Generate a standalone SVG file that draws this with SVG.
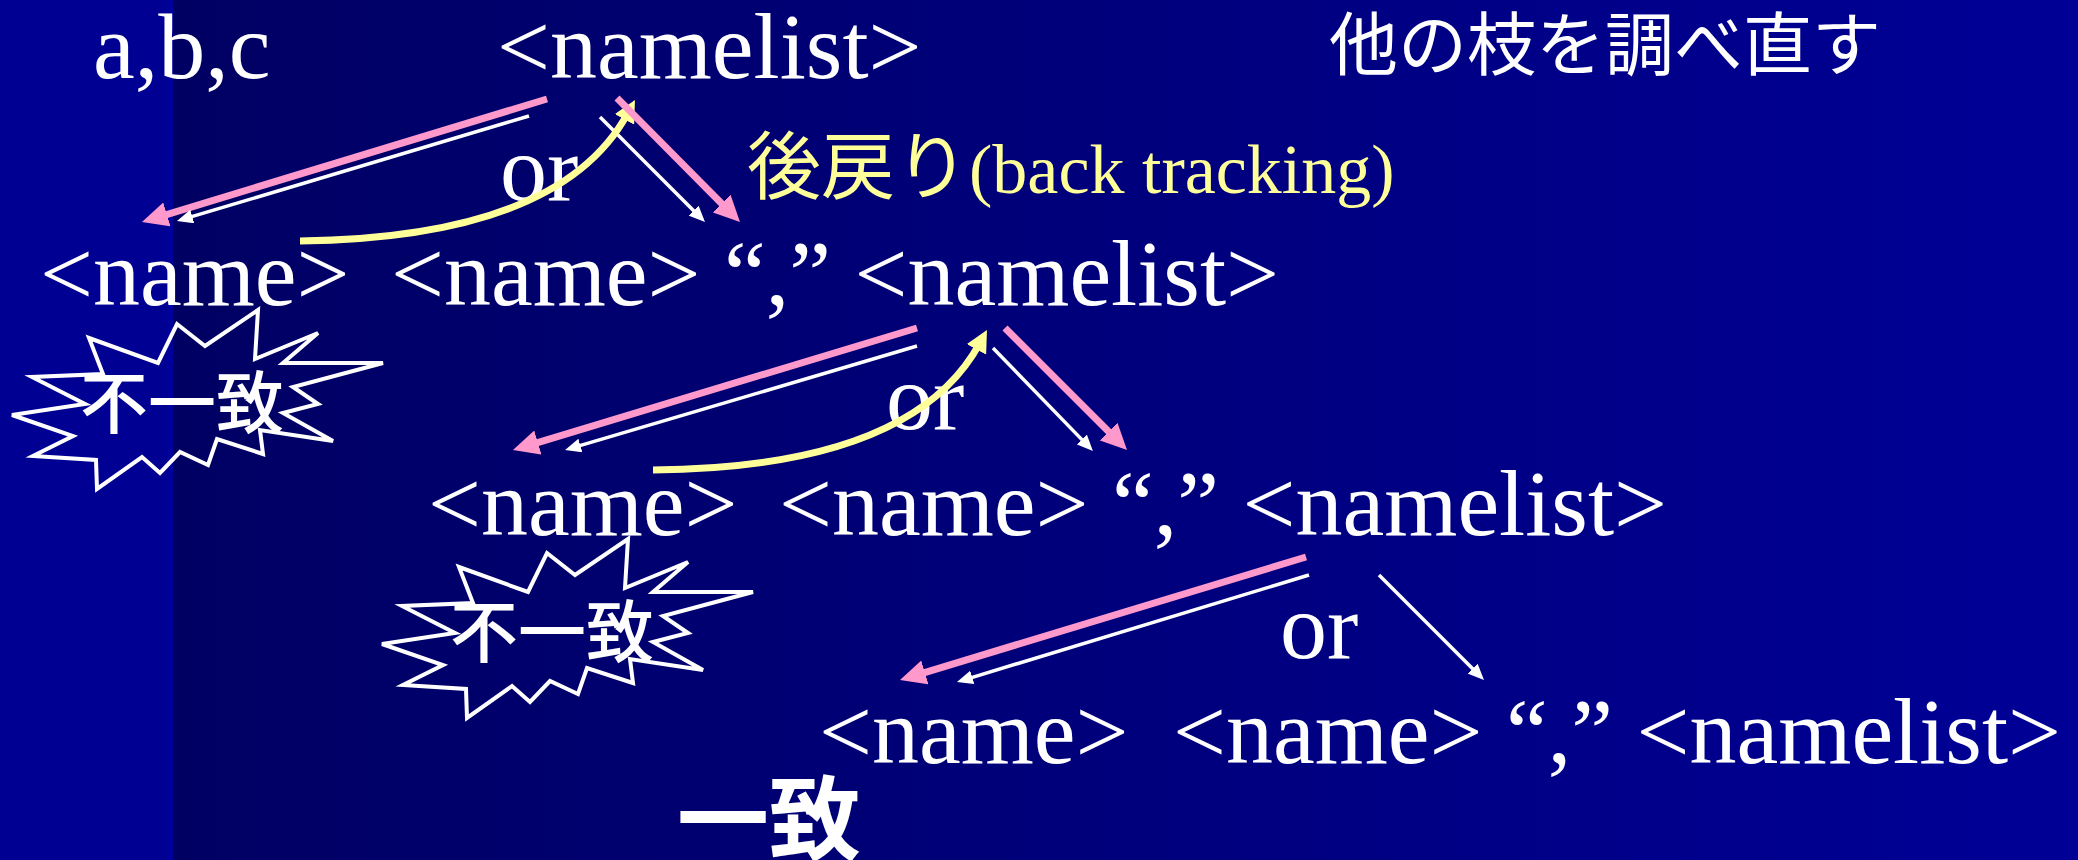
<svg xmlns="http://www.w3.org/2000/svg" width="2078" height="860" viewBox="0 0 2078 860">
  <defs>
    <linearGradient id="bgGrad" x1="170" y1="0" x2="2078" y2="0" gradientUnits="userSpaceOnUse">
      <stop offset="0" stop-color="#000063"/>
      <stop offset="1" stop-color="#000096"/>
    </linearGradient>
    <marker id="headPink" markerUnits="userSpaceOnUse" viewBox="0 0 26 25" markerWidth="26" markerHeight="25" refX="8" refY="12.5" orient="auto">
      <path d="M0,0 L26,12.5 L0,25 z" fill="#ff99cc"/>
    </marker>
    <marker id="headWhite" markerUnits="userSpaceOnUse" viewBox="0 0 16 14" markerWidth="16" markerHeight="14" refX="5" refY="7" orient="auto">
      <path d="M0,0 L16,7 L0,14 z" fill="#ffffff"/>
    </marker>
    <marker id="headYellow" markerUnits="userSpaceOnUse" viewBox="0 0 22 22" markerWidth="22" markerHeight="22" refX="7" refY="11" orient="auto">
      <path d="M0,0 L22,11 L0,22 z" fill="#ffff99"/>
    </marker>
    <!-- jagged "explosion" outline, reused for both mismatch marks -->
    <polygon id="burst" points="89,338 158,363 177,324 205,346 258,310 255,359 318,333 283,363 383,363 293,387 318,404 283,413 333,441 260,430 263,454 217,439 208,465 180,452 160,473 142,457 97,489 96,460 33,456 73,436 12,415 85,404 32,377 103,374"/>
  </defs>
  <style>
    .serif { font-family: "Liberation Serif", "Times New Roman", serif; font-size: 94px; fill: #ffffff; }
    .jp { font-family: "Noto Sans CJK JP", "Noto Sans CJK SC", sans-serif; fill: #ffffff; }
    .hl { fill: #ffff99; }
    .pink { fill: none; stroke: #ff99cc; stroke-width: 7; marker-end: url(#headPink); }
    .white { fill: none; stroke: #ffffff; stroke-width: 3.5; marker-end: url(#headWhite); }
    .yellow { fill: none; stroke: #ffff99; stroke-width: 7; marker-end: url(#headYellow); }
    .burst { fill: none; stroke: #ffffff; stroke-width: 4; stroke-linejoin: miter; }
  </style>

  <!-- background: dark navy slide with lighter left band -->
  <rect x="0" y="0" width="2078" height="860" fill="url(#bgGrad)"/>
  <rect x="0" y="0" width="167" height="860" fill="#000092"/>
  <rect x="167" y="0" width="6" height="860" fill="#00009c"/>

  <!-- input string -->
  <g id="input">
    <text class="serif" x="93" y="78">a,b,c</text>
  </g>

  <!-- root -->
  <g id="root">
    <text class="serif" x="497" y="78">&lt;namelist&gt;</text>
  </g>

  <g id="note-retry">
    <text class="jp" x="1329" y="70" font-size="69">他の枝を調べ直す</text>
  </g>

  <g id="note-backtrack">
    <text y="193"><tspan class="jp hl" x="747" font-size="74">後戻り</tspan><tspan class="hl" font-family="Liberation Serif, Times New Roman, serif" font-size="70">(back tracking)</tspan></text>
  </g>

  <!-- level 1 -->
  <g id="or-1"><text class="serif" x="500" y="200">or</text></g>
  <g id="level-1">
    <text class="serif" x="40" y="305">&lt;name&gt;</text>
    <text class="serif" x="391" y="305">&lt;name&gt; “,” &lt;namelist&gt;</text>
  </g>

  <!-- level 2 -->
  <g id="or-2"><text class="serif" x="886" y="429">or</text></g>
  <g id="level-2">
    <text class="serif" x="428" y="535">&lt;name&gt;</text>
    <text class="serif" x="779" y="535">&lt;name&gt; “,” &lt;namelist&gt;</text>
  </g>

  <!-- level 3 -->
  <g id="or-3"><text class="serif" x="1280" y="658">or</text></g>
  <g id="level-3">
    <text class="serif" x="819" y="763">&lt;name&gt;</text>
    <text class="serif" x="1173" y="763">&lt;name&gt; “,” &lt;namelist&gt;</text>
  </g>

  <g id="match">
    <text class="jp" x="677" y="853" font-size="92" font-weight="700">一致</text>
  </g>

  <!-- connectors -->
  <g id="connectors">
    <!-- level 1 -->
    <path class="pink" d="M547,99 L159.2,216.8"/>
    <path class="white" d="M529,116 L187.5,217.9"/>
    <path class="white" d="M600,117 L697.2,214.2"/>
    <path class="yellow" d="M300,241 Q560,238 627.8,113.2"/>
    <path class="pink" d="M617,98 L727.3,209.2"/>
    <!-- level 2 -->
    <path class="pink" d="M917,328 L530.2,444.8"/>
    <path class="white" d="M917,346 L575.6,446.9"/>
    <path class="white" d="M993,348 L1085.3,443.1"/>
    <path class="yellow" d="M653,470 Q912,468 979.8,343.2"/>
    <path class="pink" d="M1005,328 L1114.3,437.3"/>
    <!-- level 3 -->
    <path class="pink" d="M1306,557 L917.2,674.8"/>
    <path class="white" d="M1309,575 L967.5,678.8"/>
    <path class="white" d="M1379,575 L1476.2,672.2"/>
  </g>

  <!-- mismatch marks -->
  <g id="mismatch-1">
    <use href="#burst" class="burst"/>
    <text class="jp" x="80" y="428" font-size="68" font-weight="500">不一致</text>
  </g>
  <g id="mismatch-2">
    <use href="#burst" class="burst" transform="translate(370,229)"/>
    <text class="jp" x="450" y="657" font-size="68" font-weight="500">不一致</text>
  </g>
</svg>
